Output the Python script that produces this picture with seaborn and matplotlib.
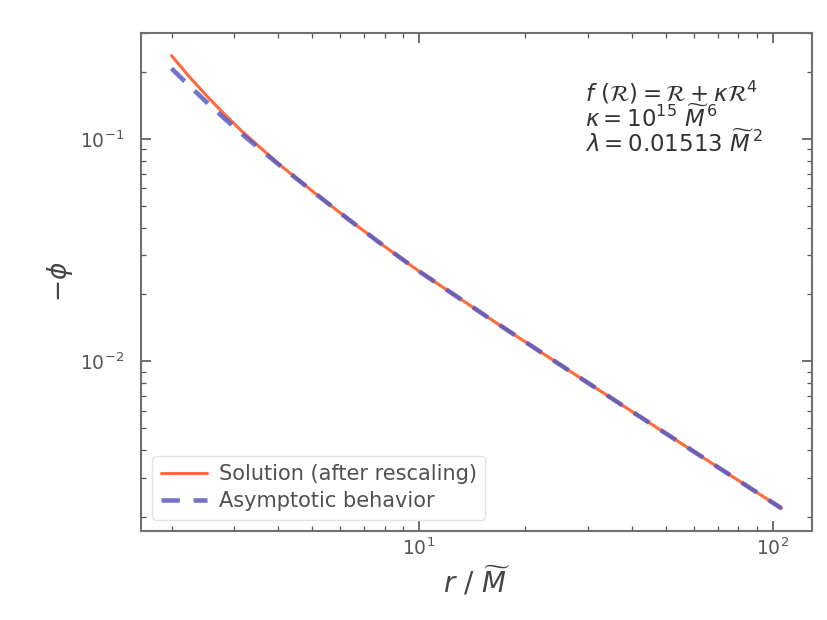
import numpy as np
import pandas as pd
import matplotlib
matplotlib.use("Agg")
import matplotlib.pyplot as plt
import seaborn as sns

# Data (r in units of M~, values of -phi)
r_solution = [2.0, 2.239, 2.512, 2.818, 3.162, 3.981, 5.012, 6.310, 7.943, 10.0, 15.85, 25.12, 39.81, 63.10, 105.9]
phi_solution = [0.2377, 0.1919, 0.1570, 0.1299, 0.1086, 0.0783, 0.0582, 0.0437, 0.0332, 0.02547, 0.01560, 0.00964, 0.00598, 0.00372, 0.00218]

r_asym = [2.0, 2.239, 2.512, 2.818, 3.162, 3.981, 5.012, 6.310, 7.943, 10.0, 15.85, 25.12, 39.81, 63.10, 105.9]
phi_asym = [0.2080, 0.1746, 0.1469, 0.1243, 0.1055, 0.0778, 0.0582, 0.0437, 0.0332, 0.02547, 0.01560, 0.00964, 0.00598, 0.00372, 0.00218]

labels = ["Solution (after rescaling)", "Asymptotic behavior"]
colors = ["#ff6a3d", "#5a5ac0"]

df_sol = pd.DataFrame({"r": r_solution, "phi": phi_solution})
df_asym = pd.DataFrame({"r": r_asym, "phi": phi_asym})

sns.set_theme(style="ticks")
plt.rcParams["font.family"] = ["DejaVu Sans"]
plt.rcParams["mathtext.fontset"] = "dejavusans"
plt.rcParams["text.color"] = "#444444"
plt.rcParams["axes.labelcolor"] = "#444444"
plt.rcParams["xtick.color"] = "#555555"
plt.rcParams["ytick.color"] = "#555555"

fig = plt.figure(figsize=(8.28, 6.2), dpi=100)
ax = fig.add_axes([0.1703, 0.1435, 0.8104, 0.8033])

sns.lineplot(data=df_sol, x="r", y="phi", color=colors[0], ax=ax,
             linewidth=2.2, estimator=None, sort=False, legend=False)
sns.lineplot(data=df_asym, x="r", y="phi", color=colors[1], ax=ax,
             linewidth=3.3, estimator=None, sort=False, legend=False,
             alpha=0.85)
line_sol, line_asym = ax.lines[0], ax.lines[1]
line_asym.set_dashes((4.0, 3.0))
line_sol.set_label(labels[0])
line_asym.set_label(labels[1])

ax.set_xscale("log")
ax.set_yscale("log")
ax.margins(0.05)

for s in ax.spines.values():
    s.set_color("#707070")
    s.set_linewidth(1.5)
ax.tick_params(which="both", direction="in", top=True, right=True, labelsize=13.5)
ax.tick_params(which="major", length=7, width=1.2)
ax.tick_params(which="minor", length=3.5, width=0.9)
ax.tick_params(axis="y", which="both", pad=12)
ax.tick_params(axis="x", which="both", pad=5)

ax.set_xlabel(r"$r\ /\ \widetilde{M}$", fontsize=20, labelpad=4)
ax.set_ylabel(r"$-\phi$", fontsize=19, labelpad=4)

text_lines = [
    r"$f\ (\mathcal{R}) = \mathcal{R} + \kappa\mathcal{R}^4$",
    r"$\kappa = 10^{15}\ \widetilde{M}^{\,6}$",
    r"$\lambda = 0.01513\ \widetilde{M}^{\,2}$",
]
for i, t in enumerate(text_lines):
    ax.text(0.662, 0.8795 - 0.0502 * i, t, transform=ax.transAxes,
            fontsize=16.5, va="center", ha="left", color="#333333")

leg = ax.legend(handles=[line_sol, line_asym], loc="lower left",
                fontsize=15, frameon=True, handlelength=2.2,
                labelspacing=0.35, borderaxespad=0.55, handletextpad=0.6)
leg.get_frame().set_edgecolor("#dddddd")
for t in leg.get_texts():
    t.set_color("#505050")

fig.savefig("out.png", dpi=100, facecolor="white")
